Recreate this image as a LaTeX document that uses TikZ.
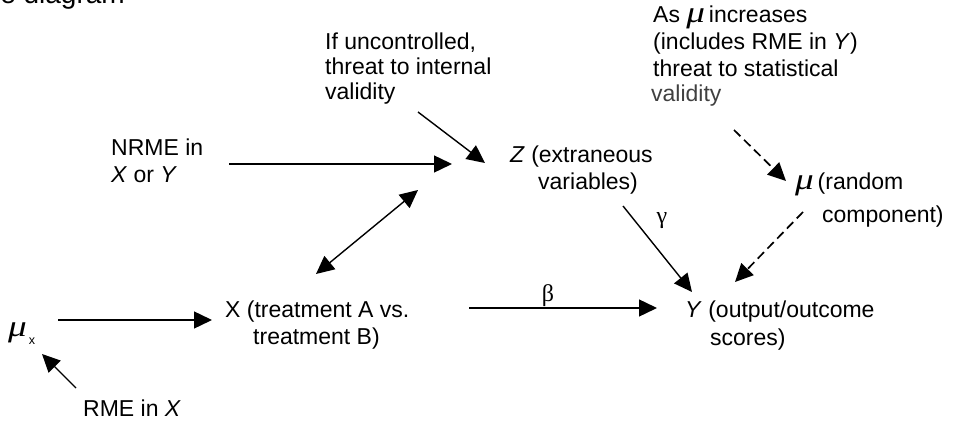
\documentclass[tikz,border=0pt]{standalone}
\usepackage{fontspec}
\usepackage{graphicx}
\setmainfont{Liberation Sans}
\newfontfamily\serifgr{Liberation Serif}
\usetikzlibrary{arrows.meta}
\newcommand\mylines[1]{\begin{tabular}[t]{@{}l@{}}#1\end{tabular}}
\newcommand\muu{\scalebox{1.55}[1.25]{\serifgr\itshape\fontsize{24}{27}\selectfont μ}}
\begin{document}
\begin{tikzpicture}[x=1pt,y=-1pt,
  lbl/.style={anchor=base west, inner sep=0pt, font=\fontsize{23}{27}\selectfont},
  arr/.style={line width=1.4pt, -{Triangle[length=18pt,width=17pt]}},
  dblarr/.style={line width=1.4pt, {Triangle[length=18pt,width=17pt]}-{Triangle[length=18pt,width=17pt]}},
  darr/.style={arr, line width=1.7pt, dash pattern=on 9pt off 5pt},
  greek/.style={anchor=base, inner sep=0pt, font=\serifgr\fontsize{24}{27}\selectfont}]
\useasboundingbox (0,0) rectangle (954,422);

% heading, cut off at the top edge as in the reference
\node[anchor=base east, inner sep=0pt, font=\fontsize{28}{32}\selectfont] (head) at (125,3.5) {e diagram};

% text nodes
\node[lbl] (nrme) at (111,156) {\mylines{NRME in\\ \textit{X} or \textit{Y}}};
\node[lbl, font=\fontsize{23}{25}\selectfont] (unc) at (325,50) {\mylines{If uncontrolled,\\ threat to internal\\ validity}};
\node[lbl] (asmu) at (653,23) {\mylines{As \muu\,increases\\ (includes RME in \textit{Y})\\ threat to statistical\\[-2pt] \hspace*{-2pt}{\color{black!75}validity}}};
\node[lbl] (z) at (510,163) {\mylines{\textit{Z} (extraneous\\ \hspace*{28pt}variables)}};
\node[lbl] (mu) at (795,190) {\mylines{\muu\,(random\\[6pt] \hspace*{27pt}component)}};
\node[lbl] (x) at (225,318) {\mylines{X (treatment A vs.\\ \hspace*{28pt}treatment B)}};
\node[lbl] (y) at (685,318) {\mylines{\textit{Y} (output/outcome\\[1pt] \hspace*{25pt}scores)}};
\node[lbl] (mux) at (8,337) {\muu\hspace{2pt}\raisebox{-8pt}{\fontsize{12.5}{14}\selectfont x}};
\node[lbl] (rme) at (83,416) {RME in \textit{X}};
\node[greek] (beta) at (548,302) {β};
\node[greek] (gamma) at (662,224) {γ};

% connector end points
\coordinate (nrme-o) at (229,164);
\coordinate (z-in1) at (452,164);
\coordinate (unc-o) at (418,112);
\coordinate (z-in2) at (485,163);
\coordinate (z-io) at (418,190);
\coordinate (x-io) at (316,274);
\coordinate (mux-o) at (58,320);
\coordinate (x-in) at (212,320);
\coordinate (rme-o) at (76,388);
\coordinate (mux-in) at (42,354);
\coordinate (x-o) at (469,308);
\coordinate (y-in1) at (657,308);
\coordinate (z-o) at (623,206);
\coordinate (y-in2) at (692,292);
\coordinate (asmu-o) at (734,130);
\coordinate (mu-in) at (786,181);
\coordinate (mu-o) at (803,212);
\coordinate (y-in3) at (735,282);

% connectors
\draw[arr] (nrme-o) -- (z-in1);
\draw[arr] (unc-o) -- (z-in2);
\draw[dblarr] (x-io) -- (z-io);
\draw[arr] (mux-o) -- (x-in);
\draw[arr] (rme-o) -- (mux-in);
\draw[arr] (x-o) -- (y-in1);
\draw[arr] (z-o) -- (y-in2);
\draw[darr] (asmu-o) -- (mu-in);
\draw[darr] (mu-o) -- (y-in3);
\end{tikzpicture}
\end{document}
